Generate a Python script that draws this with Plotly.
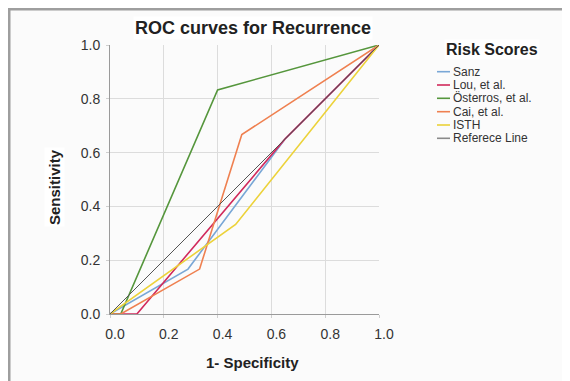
import plotly.graph_objects as go

# ---------------- data ----------------
series_names = ["Sanz", "Lou, et al.", "Österros, et al.", "Cai, et al.", "ISTH", "Referece Line"]

sanz_x = [0.0, 0.29, 0.65, 1.0]
sanz_y = [0.0, 0.167, 0.65, 1.0]

lou_x = [0.0, 0.10, 0.65, 1.0]
lou_y = [0.0, 0.0, 0.65, 1.0]

osterros_x = [0.0, 0.04, 0.40, 1.0]
osterros_y = [0.0, 0.0, 0.833, 1.0]

cai_x = [0.0, 0.04, 0.333, 0.49, 1.0]
cai_y = [0.0, 0.0, 0.167, 0.667, 1.0]

isth_x = [0.0, 0.467, 1.0]
isth_y = [0.0, 0.333, 1.0]

ref_x = [0.0, 1.0]
ref_y = [0.0, 1.0]

tick_vals = [0.0, 0.2, 0.4, 0.6, 0.8, 1.0]

# ---------------- styling ----------------
colors = ["#79a7d6", "#d12a5c", "#55963c", "#ef8050", "#ecd23a", "#555555"]
legend_colors = ["#79a7d6", "#d12a5c", "#55963c", "#ef8050", "#ecd23a", "#8a8a8a"]
widths = [1.6, 1.6, 1.6, 1.6, 1.6, 1.0]
FONT = "Liberation Sans, Arial, Helvetica, sans-serif"

xs = [sanz_x, lou_x, osterros_x, cai_x, isth_x, ref_x]
ys = [sanz_y, lou_y, osterros_y, cai_y, isth_y, ref_y]

fig = go.Figure()
for name, x, y, c, w in zip(series_names, xs, ys, colors, widths):
    fig.add_trace(go.Scatter(x=x, y=y, mode="lines", name=name,
                             line=dict(color=c, width=w), showlegend=False))

# the page body has an 8px margin, so the figure is drawn 8px in from the window corner
OFF = 8
W, H = 570 - OFF, 381 - OFF
L, T = 110 - OFF, 45 - OFF
pw = ph = 269
R = W - L - pw
B = H - T - ph


def px(xp):  # window pixel -> paper x
    return (xp - OFF - L) / pw


def py(yp):  # window pixel -> paper y
    return (T + ph - (yp - OFF)) / ph


axis_common = dict(range=[0, 1], tickvals=tick_vals, tickformat=".1f",
                   showgrid=True, gridcolor="#dcdcdc", gridwidth=1,
                   zeroline=False, showline=True, linecolor="#9a9a9a", linewidth=1,
                   ticks="outside", ticklen=3, tickcolor="#cfcfcf",
                   tickfont=dict(family=FONT, size=14, color="#333333"))
fig.update_xaxes(**axis_common, ticklabelshift=5, ticklabelstandoff=4)
fig.update_yaxes(**axis_common, ticklabelstandoff=3)


def ann(text, x, y, size, color="#222222", **kw):
    d = dict(text=text, x=px(x), y=py(y), xref="paper", yref="paper",
             xanchor="center", yanchor="middle", showarrow=False,
             font=dict(family=FONT, size=size, color=color))
    d.update(kw)
    return d


annotations = [
    ann("<b>ROC curves for Recurrence</b>", 253, 28, 18, bgcolor="#ffffff"),
    ann("<b>1- Specificity</b>", 252, 362, 15),
    ann("<b>Sensitivity</b>", 55, 187, 15, textangle=-90, bgcolor="#ffffff"),
    ann("<b>Risk Scores</b>", 492, 50, 16, bgcolor="#ffffff"),
]

shapes = [
    # frame border (left and top)
    dict(type="line", xref="paper", yref="paper", x0=px(9), x1=px(9), y0=py(8), y1=py(400),
         line=dict(color="#9e9e9e", width=3)),
    dict(type="line", xref="paper", yref="paper", x0=px(7.5), x1=px(600), y0=py(9), y1=py(9),
         line=dict(color="#9e9e9e", width=3)),
]

row_y = [71.7, 85.0, 98.3, 111.7, 125.0, 138.3]
for name, c, ry in zip(series_names, legend_colors, row_y):
    shapes.append(dict(type="line", xref="paper", yref="paper", x0=px(437), x1=px(450),
                       y0=py(ry), y1=py(ry), line=dict(color=c, width=1.6)))
    annotations.append(ann(name, 451, ry, 12, color="#333333", xanchor="left"))

fig.update_layout(width=W, height=H, margin=dict(l=L, r=R, t=T, b=B),
                  paper_bgcolor="#fbfbfb", plot_bgcolor="#fbfbfb",
                  annotations=annotations, shapes=shapes, showlegend=False,
                  font=dict(family=FONT))

fig.write_html("out.html")
